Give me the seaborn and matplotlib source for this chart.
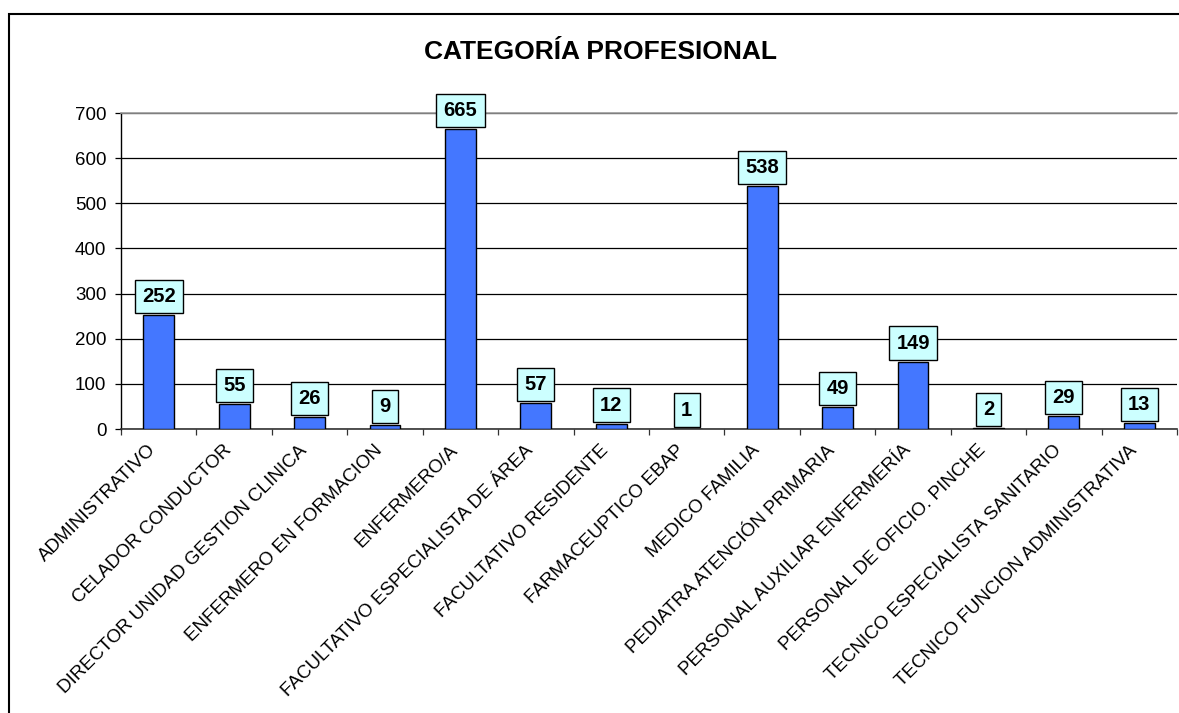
import matplotlib
matplotlib.use("Agg")
import matplotlib.pyplot as plt
from matplotlib.patches import Rectangle
from matplotlib.ticker import FixedLocator
from matplotlib.transforms import ScaledTranslation
import seaborn as sns
import pandas as pd

# Data
categorias = ["ADMINISTRATIVO", "CELADOR CONDUCTOR", "DIRECTOR UNIDAD GESTION CLINICA",
              "ENFERMERO EN FORMACION", "ENFERMERO/A", "FACULTATIVO ESPECIALISTA DE ÁREA",
              "FACULTATIVO RESIDENTE", "FARMACEUPTICO EBAP", "MEDICO FAMILIA",
              "PEDIATRA ATENCIÓN PRIMARIA", "PERSONAL AUXILIAR ENFERMERÍA",
              "PERSONAL DE OFICIO. PINCHE", "TECNICO ESPECIALISTA SANITARIO",
              "TECNICO FUNCION ADMINISTRATIVA"]
valores = [252, 55, 26, 9, 665, 57, 12, 1, 538, 49, 149, 2, 29, 13]
y_ticks = [0, 100, 200, 300, 400, 500, 600, 700]
titulo = "CATEGORÍA PROFESIONAL"

df = pd.DataFrame({"categoria": categorias, "total": valores})

sns.set_theme(style="white")
plt.rcParams["font.family"] = ["Liberation Sans", "DejaVu Sans"]
plt.rcParams["text.color"] = "black"
plt.rcParams["xtick.color"] = "black"
plt.rcParams["ytick.color"] = "black"

fig = plt.figure(figsize=(11.79, 7.13), dpi=100)
ax = fig.add_axes([121 / 1179, 1 - 429 / 713, 1056 / 1179, 316 / 713])

sns.barplot(data=df, x="categoria", y="total", color="#4477ff", saturation=1,
            width=0.41, edgecolor="black", linewidth=1, ax=ax, zorder=3)

ax.set_ylim(0, 700)
ax.set_xlim(-0.5, len(categorias) - 0.5)
ax.set_yticks(y_ticks)
ax.set_xlabel("")
ax.set_ylabel("")

# gridlines
ax.yaxis.grid(True, color="black", linewidth=0.9)
ax.set_axisbelow(True)

# spines
ax.spines["right"].set_visible(False)
ax.spines["top"].set_color("#999999")
ax.spines["top"].set_linewidth(1.2)
ax.spines["top"].set_zorder(4)
ax.spines["left"].set_color("black")
ax.spines["left"].set_linewidth(1)
ax.spines["bottom"].set_color("#333333")
ax.spines["bottom"].set_linewidth(1.2)

# ticks
ax.tick_params(axis="y", direction="out", length=4.5, width=0.9, color="black",
               labelsize=13.5, pad=6, left=True, labelcolor="black")
ax.tick_params(axis="x", which="major", length=0, pad=13.5, labelsize=13.5,
               labelcolor="black")
ax.xaxis.set_minor_locator(FixedLocator([i - 0.5 for i in range(len(categorias) + 1)]))
ax.tick_params(axis="x", which="minor", direction="out", length=4, width=0.9,
               color="#333333", bottom=True)
shift = ScaledTranslation(-5 / 100, 0, fig.dpi_scale_trans)
for lab in ax.get_xticklabels():
    lab.set_rotation(45)
    lab.set_ha("right")
    lab.set_va("center")
    lab.set_rotation_mode("anchor")
    lab.set_transform(lab.get_transform() + shift)

# value labels in boxes
for i, v in enumerate(valores):
    ax.annotate(str(v), xy=(i, v), xytext=(0, 6.5), textcoords="offset points",
                ha="center", va="bottom", fontsize=14.5, fontweight="bold",
                color="black",
                bbox=dict(boxstyle="square,pad=0.36", fc="#ccffff", ec="black", lw=1),
                zorder=5)

fig.text(600 / 1179, 1 - 52 / 713, titulo, ha="center", va="center",
         fontsize=19, fontweight="bold", color="black")

# outer chart border
fig.patches.append(Rectangle((9 / 1179, -0.1), 1.2, 1 - 14 / 713 + 0.1,
                             transform=fig.transFigure, fill=False,
                             edgecolor="black", linewidth=1.5))

plt.savefig("out.png", dpi=100)
